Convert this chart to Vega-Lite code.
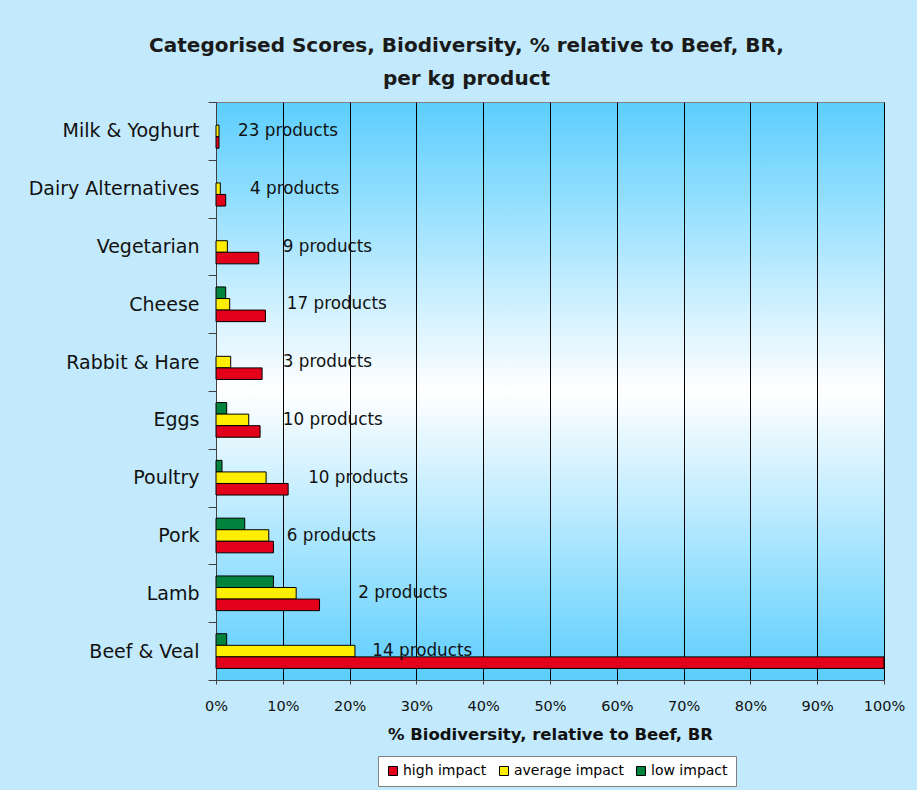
{
  "$schema": "https://vega.github.io/schema/vega-lite/v6.json",
  "width": 668,
  "height": 578,
  "autosize": {"type": "none"},
  "padding": {"left": 216, "top": 102, "right": 33, "bottom": 110},
  "background": "#c2eafc",
  "title": {
    "text": ["Categorised Scores, Biodiversity, % relative to Beef, BR,", "per kg product"],
    "fontSize": 20,
    "fontWeight": "bold",
    "color": "#1a1a1a",
    "anchor": "middle",
    "frame": "bounds",
    "offset": 4,
    "lineHeight": 33,
    "dx": 0,
    "font": "DejaVu Sans"
  },
  "datasets": {
    "scores": [
      {"category": "Milk & Yoghurt", "impact": "average impact", "value": 0.45},
      {"category": "Milk & Yoghurt", "impact": "high impact", "value": 0.45},
      {"category": "Dairy Alternatives", "impact": "average impact", "value": 0.65},
      {"category": "Dairy Alternatives", "impact": "high impact", "value": 1.45},
      {"category": "Vegetarian", "impact": "average impact", "value": 1.7},
      {"category": "Vegetarian", "impact": "high impact", "value": 6.4},
      {"category": "Cheese", "impact": "low impact", "value": 1.45},
      {"category": "Cheese", "impact": "average impact", "value": 2.05},
      {"category": "Cheese", "impact": "high impact", "value": 7.4},
      {"category": "Rabbit & Hare", "impact": "average impact", "value": 2.2},
      {"category": "Rabbit & Hare", "impact": "high impact", "value": 6.9},
      {"category": "Eggs", "impact": "low impact", "value": 1.6},
      {"category": "Eggs", "impact": "average impact", "value": 4.9},
      {"category": "Eggs", "impact": "high impact", "value": 6.6},
      {"category": "Poultry", "impact": "low impact", "value": 0.9},
      {"category": "Poultry", "impact": "average impact", "value": 7.5},
      {"category": "Poultry", "impact": "high impact", "value": 10.8},
      {"category": "Pork", "impact": "low impact", "value": 4.3},
      {"category": "Pork", "impact": "average impact", "value": 7.9},
      {"category": "Pork", "impact": "high impact", "value": 8.6},
      {"category": "Lamb", "impact": "low impact", "value": 8.6},
      {"category": "Lamb", "impact": "average impact", "value": 12.0},
      {"category": "Lamb", "impact": "high impact", "value": 15.5},
      {"category": "Beef & Veal", "impact": "low impact", "value": 1.6},
      {"category": "Beef & Veal", "impact": "average impact", "value": 20.8},
      {"category": "Beef & Veal", "impact": "high impact", "value": 100}
    ],
    "labels": [
      {"category": "Milk & Yoghurt", "label": "23 products", "value": 3.3},
      {"category": "Dairy Alternatives", "label": "4 products", "value": 5.1},
      {"category": "Vegetarian", "label": "9 products", "value": 10.0},
      {"category": "Cheese", "label": "17 products", "value": 10.6},
      {"category": "Rabbit & Hare", "label": "3 products", "value": 10.0},
      {"category": "Eggs", "label": "10 products", "value": 10.0},
      {"category": "Poultry", "label": "10 products", "value": 13.8},
      {"category": "Pork", "label": "6 products", "value": 10.6},
      {"category": "Lamb", "label": "2 products", "value": 21.3},
      {"category": "Beef & Veal", "label": "14 products", "value": 23.4}
    ]
  },
  "encoding": {
    "y": {
      "field": "category",
      "type": "nominal",
      "sort": ["Milk & Yoghurt", "Dairy Alternatives", "Vegetarian", "Cheese", "Rabbit & Hare", "Eggs", "Poultry", "Pork", "Lamb", "Beef & Veal"],
      "scale": {"paddingInner": 0, "paddingOuter": 0},
      "axis": {
        "title": null,
        "tickBand": "extent",
        "tickSize": 8,
        "labelFontSize": 19,
        "labelPadding": 9,
        "labelColor": "#111111",
        "domainColor": "#404040",
        "tickColor": "#404040",
        "grid": false
      }
    },
    "x": {
      "field": "value",
      "type": "quantitative",
      "scale": {"domain": [0, 100], "nice": false},
      "axis": {
        "title": "% Biodiversity, relative to Beef, BR",
        "values": [0, 10, 20, 30, 40, 50, 60, 70, 80, 90, 100],
        "labelExpr": "datum.value + '%'",
        "labelFlush": false,
        "grid": true,
        "gridColor": "#000000",
        "gridOpacity": 1,
        "gridWidth": 1,
        "tickSize": 4,
        "tickColor": "#404040",
        "domainColor": "#404040",
        "labelFontSize": 14.5,
        "labelPadding": 15,
        "labelColor": "#111111",
        "titleFontSize": 16.5,
        "titleFontWeight": "bold",
        "titlePadding": 14,
        "titleColor": "#111111"
      }
    }
  },
  "layer": [
    {
      "data": {"name": "scores"},
      "mark": {"type": "bar", "stroke": "#000000", "strokeWidth": 1},
      "encoding": {
        "yOffset": {
          "field": "impact",
          "type": "nominal",
          "sort": ["low impact", "average impact", "high impact"],
          "scale": {"paddingInner": 0, "paddingOuter": 1.94}
        },
        "color": {
          "field": "impact",
          "type": "nominal",
          "scale": {
            "domain": ["high impact", "average impact", "low impact"],
            "range": ["#E2001A", "#FFEE00", "#00843D"]
          },
          "legend": {
            "title": null,
            "orient": "none",
            "legendX": 162,
            "legendY": 654,
            "direction": "horizontal",
            "fillColor": "#ffffff",
            "strokeColor": "#808080",
            "padding": 8,
            "symbolType": "square",
            "symbolSize": 81,
            "symbolStrokeColor": "#000000",
            "symbolStrokeWidth": 1,
            "labelFontSize": 14,
            "labelOffset": 3,
            "columnPadding": 10,
            "labelColor": "#000000"
          }
        }
      }
    },
    {
      "data": {"name": "labels"},
      "mark": {"type": "text", "align": "left", "baseline": "middle", "fontSize": 16.8, "color": "#111111"},
      "encoding": {
        "text": {"field": "label"}
      }
    }
  ],
  "config": {
    "font": "DejaVu Sans",
    "view": {
      "fill": {
        "gradient": "linear",
        "x1": 0, "y1": 0, "x2": 0, "y2": 1,
        "stops": [
          {"offset": 0, "color": "#5CCEFE"},
          {"offset": 0.5, "color": "#FFFFFF"},
          {"offset": 1, "color": "#5CCEFE"}
        ]
      },
      "stroke": "#808080",
      "strokeWidth": 1
    }
  }
}
